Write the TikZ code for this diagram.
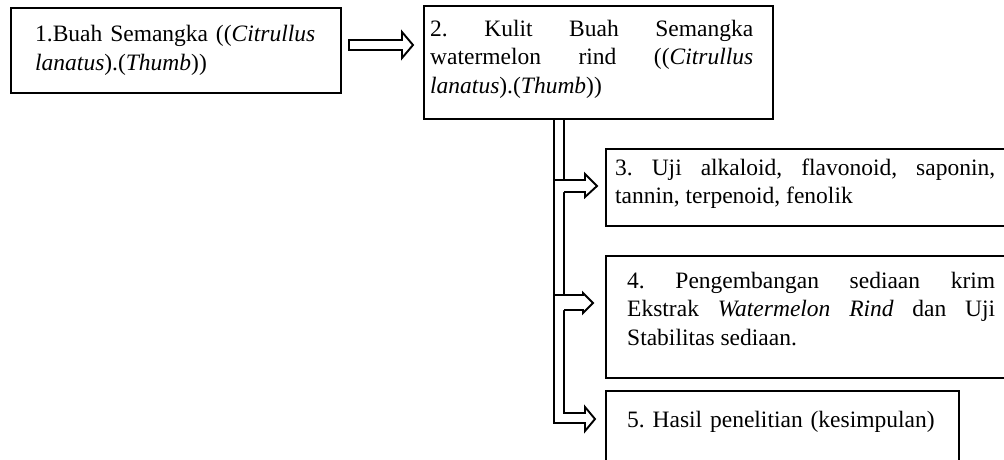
\documentclass[tikz,border=0pt]{standalone}
\usepackage{fontspec}
\setmainfont{Liberation Serif}
\begin{document}
\begin{tikzpicture}[x=1pt,y=-1pt,
  box/.style={draw, line width=2pt, anchor=north west, inner sep=0pt},
  blk/.style={draw, line width=1.9pt, line join=miter},
  txt/.style={inner sep=0pt, anchor=north west, font=\fontsize{23.5}{28.5}\selectfont\frenchspacing}]
\clip (0,0) rectangle (1004,459);
\fill[white] (0,0) rectangle (1004,459);
% boxes
\node[box, minimum width=330, minimum height=85] (b1) at (10,7) {};
\node[box, minimum width=349, minimum height=113] (b2) at (423,5) {};
\node[box, minimum width=420, minimum height=77] (b3) at (605,148) {};
\node[box, minimum width=420, minimum height=122] (b4) at (605,255) {};
\node[box, minimum width=353, minimum height=100] (b5) at (605,390) {};
% texts
\node[txt, text width=300, align=left] (t1) at (35,21.7)
  {\strut 1.Buah Semangka ((\textit{Citrullus}\\\textit{lanatus}).(\textit{Thumb}))};
\node[txt, text width=323, align=justify] (t2) at (430,16)
  {\strut 2. Kulit Buah Semangka\linebreak watermelon rind ((\textit{Citrullus}\linebreak \textit{lanatus}).(\textit{Thumb}))};
\node[txt, text width=380, align=justify] (t3) at (615,155)
  {\strut 3. Uji alkaloid, flavonoid, saponin,\linebreak tannin, terpenoid, fenolik};
\node[txt, text width=368, align=justify] (t4) at (627,268)
  {\strut 4. Pengembangan sediaan krim\linebreak Ekstrak \textit{Watermelon Rind} dan Uji\linebreak Stabilitas sediaan.};
\node[txt, text width=330, align=left] (t5) at (627,407)
  {\strut 5. Hasil penelitian (kesimpulan)};
% arrow 1 -> 2
\draw[blk, fill=white] (349,40) -- (402,40) -- (402,32) -- (413,45) -- (402,58) -- (402,50) -- (349,50) -- cycle;
% pipe from box 2 with arrow to box 5
\draw[blk] (554,118) -- (554,423) -- (585,423) -- (585,431) -- (595,419) -- (585,407) -- (585,413) -- (564,413) -- (564,118);
% arrow to box 3
\fill[white] (555,180) -- (585,180) -- (585,174) -- (597,186) -- (585,197) -- (585,192) -- (555,192) -- cycle;
\draw[blk] (554,180) -- (585,180) -- (585,174) -- (597,186) -- (585,197) -- (585,192) -- (564,192);
% arrow to box 4
\fill[white] (555,295) -- (583,295) -- (583,293) -- (593,303) -- (583,313) -- (583,310) -- (555,310) -- cycle;
\draw[blk] (554,295) -- (583,295) -- (583,293) -- (593,303) -- (583,313) -- (583,310) -- (564,310);
\end{tikzpicture}
\end{document}
